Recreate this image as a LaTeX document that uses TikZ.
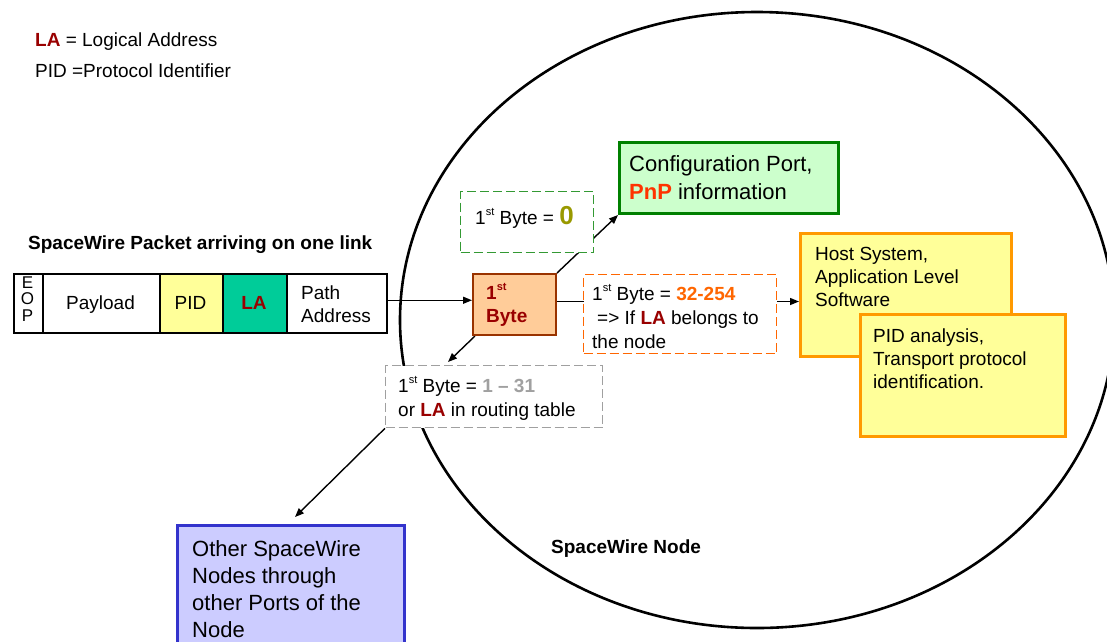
\documentclass[tikz,border=0pt]{standalone}
\usepackage{fontspec}
\setmainfont{Liberation Sans}
\usetikzlibrary{arrows.meta}
\pgfdeclarelayer{bg}
\pgfsetlayers{bg,main}
\definecolor{ladark}{RGB}{153,0,0}
\definecolor{pnpred}{RGB}{255,51,0}
\definecolor{orng}{RGB}{255,102,0}
\definecolor{olive0}{RGB}{153,153,0}
\definecolor{greyt}{RGB}{160,160,160}
\definecolor{pidyellow}{RGB}{255,255,153}
\definecolor{lagreen}{RGB}{0,204,153}
\definecolor{bytefill}{RGB}{255,204,153}
\definecolor{bytebrd}{RGB}{153,51,0}
\definecolor{cfgbrd}{RGB}{0,128,0}
\definecolor{cfgfill}{RGB}{204,255,204}
\definecolor{hostbrd}{RGB}{255,153,0}
\definecolor{bluebrd}{RGB}{51,51,204}
\definecolor{bluefill}{RGB}{204,204,255}
\definecolor{dgreen}{RGB}{51,153,51}
\newcommand{\fl}{\rule{0pt}{17pt}}
\newcommand{\supst}{\raisebox{0.45em}{\fontsize{11}{11}\selectfont st}}
\newcommand{\LA}{\textbf{\textcolor{ladark}{LA}}}
\begin{document}
\begin{tikzpicture}[x=1pt,y=-1pt,
  cell/.style={draw=black, line width=1.5pt, inner sep=0pt, anchor=north west, minimum height=59pt},
  box/.style={inner sep=0pt, anchor=north west},
  dbox/.style={box, fill=white, line width=1.3pt, dash pattern=on 9pt off 4pt},
  t19/.style={inner sep=0pt, align=left, font=\fontsize{19}{23}\selectfont},
  t22/.style={inner sep=0pt, align=left, font=\fontsize{22}{28}\selectfont},
  arr/.style={line width=1.4pt, -{Triangle[length=9pt,width=7pt]}},
  conn/.style={line width=1.4pt}
]
\useasboundingbox (0,0) rectangle (1107,641);

% legend
\node[t19, anchor=base west] (leg1) at (35,46) {\LA{} = Logical Address};
\node[t19, anchor=base west] (leg2) at (35,77) {PID =Protocol Identifier};
\node[t19, anchor=base west, font=\fontsize{19}{23}\selectfont\bfseries] (title) at (28,249) {SpaceWire Packet arriving on one link};

% packet
\node[cell, minimum width=29pt] (eop) at (13,273) {};
\node[cell, minimum width=117pt] (payload) at (42,273) {};
\node[cell, minimum width=63pt, fill=pidyellow] (pid) at (159,273) {};
\node[cell, minimum width=64pt, fill=lagreen] (la) at (222,273) {};
\node[cell, minimum width=100pt] (path) at (286,273) {};
\node[inner sep=0pt, align=center, font=\fontsize{17}{16.5}\selectfont] (eopT) at (27.5,299) {E\\O\\P};
\node[t19, anchor=base] (payT) at (100.5,309) {Payload};
\node[t19, anchor=base] (pidT) at (190.5,309) {PID};
\node[t19, anchor=base] (laT) at (254,309) {\LA};
\node[t19, anchor=north west] (pathT) at (301,282) {\fl Path\\Address};

% SpaceWire node ellipse
\begin{pgfonlayer}{bg}
\draw[line width=2.6pt] (757,320) ellipse [x radius=357pt, y radius=308pt];
\end{pgfonlayer}
\node[t19, anchor=base west, font=\fontsize{19}{23}\selectfont\bfseries] (swn) at (551,553) {SpaceWire Node};

% first byte
\node[box, draw=bytebrd, fill=bytefill, line width=2pt, minimum width=83pt, minimum height=61pt] (byte) at (472,273) {};
\node[t19, anchor=north west, font=\fontsize{19}{23}\selectfont\bfseries, text=ladark] (byteT) at (486,282) {\fl 1\supst\\Byte};

% configuration port
\node[box, draw=cfgbrd, fill=cfgfill, line width=3pt, minimum width=219pt, minimum height=71pt] (cfg) at (618,141) {};
\node[t22, anchor=north west] (cfgT) at (629,154) {\fl Configuration Port,\\\textbf{\textcolor{pnpred}{PnP}} information};
\node[dbox, draw=dgreen, minimum width=133pt, minimum height=61pt] (gbox) at (460,191) {};
\node[t19, anchor=base west] (gT) at (475,224) {1\supst{} Byte = \textbf{\textcolor{olive0}{\fontsize{26}{26}\selectfont 0}}};

% host system
\node[box, draw=hostbrd, fill=pidyellow, line width=3pt, minimum width=211pt, minimum height=123pt] (host) at (799,232) {};
\node[t19, anchor=north west] (hostT) at (815,243) {\fl Host System,\\Application Level\\Software};
\node[box, draw=hostbrd, fill=pidyellow, line width=3pt, minimum width=205pt, minimum height=122pt] (pidan) at (859,313) {};
\node[t19, anchor=north west] (pidanT) at (873,325) {\fl PID analysis,\\Transport protocol\\identification.};
\node[dbox, draw=orng, minimum width=193pt, minimum height=79pt] (obox) at (583,274) {};
\node[t19, anchor=north west, font=\fontsize{19}{24}\selectfont] (oT) at (592,283) {\fl 1\supst{} Byte = \textbf{\textcolor{orng}{32-254}}\\\hspace{5pt}=> If \LA{} belongs to\\the node};

% routing
\node[dbox, draw=greyt, minimum width=217pt, minimum height=62pt] (grey) at (385,365) {};
\node[t19, anchor=north west, font=\fontsize{19}{24}\selectfont] (greyT) at (398,375) {\fl 1\supst{} Byte = \textbf{\textcolor{greyt}{1 – 31}}\\or \LA{} in routing table};
\node[box, draw=bluebrd, fill=bluefill, line width=3pt, minimum width=227pt, minimum height=140pt] (blue) at (176,524) {};
\node[t22, anchor=north west, font=\fontsize{22}{27}\selectfont] (blueT) at (192,539) {\fl Other SpaceWire\\Nodes through\\other Ports of the\\Node};

% connectors
\coordinate (gtip) at ([xshift=63pt,yshift=3pt]grey.north west);
\coordinate (btip) at ([xshift=119pt,yshift=7pt]blue.north west);
\begin{pgfonlayer}{bg}
\draw[arr] ([yshift=3pt]path.east) -- ([yshift=3pt]path.east -| byte.west);
\draw[arr] (byte.north east) -- (cfg.south west);
\draw[arr] ([yshift=3pt]byte.east) -- ([yshift=3pt]byte.east -| host.west);
\draw[arr] ([xshift=3pt]byte.south west) -- (gtip);
\draw[arr] (grey.south west) -- (btip);
\end{pgfonlayer}
\end{tikzpicture}
\end{document}
